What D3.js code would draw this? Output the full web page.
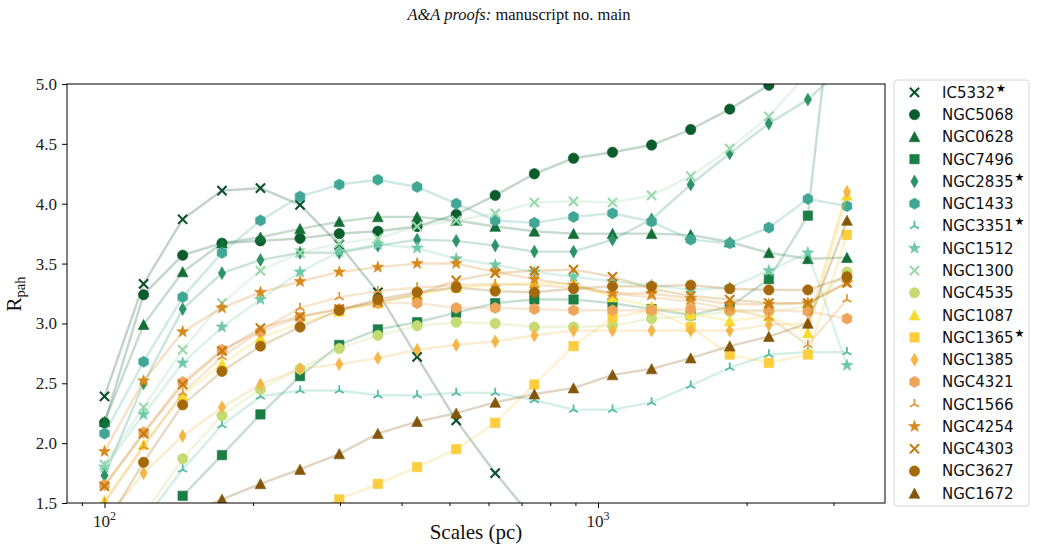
<!DOCTYPE html>
<html><head><meta charset="utf-8">
<script src="https://cdn.jsdelivr.net/npm/d3@7/dist/d3.min.js"></script>
<style>body{margin:0;background:#fff}</style>
</head><body><svg id="c" width="1037" height="552"></svg>
<script>
// ---------- data ----------
const scales = [100,120,144,173,207,249,299,358,430,516,619,743,892,1070,1284,1541,1849,2219,2662,3195];
const names = ["IC5332","NGC5068","NGC0628","NGC7496","NGC2835","NGC1433","NGC3351","NGC1512","NGC1300","NGC4535",
               "NGC1087","NGC1365","NGC1385","NGC4321","NGC1566","NGC4254","NGC4303","NGC3627","NGC1672"];
const starred = ["IC5332","NGC2835","NGC3351","NGC1365"];

const IC5332  = [2.39,3.33,3.87,4.11,4.13,3.99,3.66,3.26,2.72,2.19,1.75,1.36,null,null,null,null,null,null,null,null];
const NGC5068 = [2.17,3.24,3.57,3.67,3.69,3.71,3.75,3.77,3.81,3.91,4.07,4.25,4.38,4.43,4.49,4.62,4.79,4.99,null,null];
const NGC0628 = [2.18,2.99,3.43,3.67,3.72,3.79,3.85,3.89,3.89,3.86,3.81,3.77,3.75,3.75,3.75,3.74,3.68,3.59,3.54,3.55];
const NGC7496 = [null,null,1.56,1.90,2.24,2.56,2.82,2.95,3.01,3.09,3.17,3.20,3.20,3.17,3.12,3.07,3.14,3.37,3.90,6.80];
const NGC2835 = [1.73,2.50,3.12,3.42,3.53,3.59,3.59,3.65,3.70,3.69,3.65,3.60,3.60,3.70,3.87,4.16,4.42,4.67,4.87,5.17];
const NGC1433 = [2.08,2.68,3.22,3.59,3.86,4.06,4.16,4.20,4.14,4.00,3.86,3.84,3.89,3.92,3.85,3.70,3.67,3.80,4.04,3.98];
const NGC3351 = [null,1.35,1.78,2.15,2.39,2.44,2.44,2.40,2.40,2.42,2.42,2.36,2.28,2.28,2.34,2.48,2.63,2.74,2.76,2.76];
const NGC1512 = [1.80,2.24,2.67,2.97,3.20,3.43,3.60,3.66,3.63,3.54,3.49,3.43,3.39,3.35,3.32,3.28,3.30,3.44,3.59,2.65];
const NGC1300 = [1.82,2.30,2.78,3.17,3.44,3.59,3.67,3.71,3.81,3.86,3.92,4.01,4.02,4.01,4.07,4.23,4.46,4.73,5.09,null];
const NGC4535 = [null,1.40,1.87,2.23,2.45,2.62,2.79,2.90,2.98,3.01,3.00,2.97,2.97,2.98,3.04,3.06,3.10,3.10,3.14,3.43];
const NGC1087 = [1.52,1.99,2.40,2.66,2.88,3.00,3.10,3.17,3.24,3.30,3.32,3.34,3.33,3.22,3.14,3.08,3.02,3.06,2.92,4.07];
const NGC1365 = [null,null,null,null,null,1.40,1.53,1.66,1.80,1.95,2.17,2.49,2.81,3.05,3.11,2.97,2.74,2.67,2.74,3.74];
const NGC1385 = [1.35,1.75,2.06,2.30,2.49,2.62,2.66,2.71,2.78,2.82,2.85,2.90,2.94,2.94,2.94,2.94,2.94,2.99,3.00,4.10];
const NGC4321 = [1.65,2.09,2.51,2.78,2.93,3.05,3.12,3.17,3.17,3.13,3.13,3.12,3.11,3.11,3.11,3.12,3.11,3.11,3.10,3.04];
const NGC1566 = [1.50,1.97,2.42,2.72,2.94,3.13,3.22,3.27,3.30,3.32,3.33,3.32,3.30,3.25,3.22,3.18,3.12,3.05,2.82,3.20];
const NGC4254 = [1.93,2.52,2.93,3.13,3.26,3.35,3.43,3.47,3.50,3.50,3.43,3.37,3.32,3.25,3.25,3.21,3.16,3.16,3.17,3.34];
const NGC4303 = [1.64,2.08,2.49,2.77,2.96,3.06,3.12,3.18,3.24,3.36,3.42,3.44,3.45,3.39,3.29,3.23,3.20,3.17,3.17,3.34];
const NGC3627 = [1.30,1.84,2.32,2.60,2.81,2.97,3.11,3.20,3.26,3.30,3.27,3.26,3.29,3.31,3.31,3.32,3.29,3.28,3.28,3.39];
const NGC1672 = [null,null,1.40,1.53,1.66,1.78,1.91,2.08,2.18,2.25,2.34,2.41,2.46,2.57,2.62,2.71,2.81,2.89,3.00,3.86];

const seriesValues = [IC5332,NGC5068,NGC0628,NGC7496,NGC2835,NGC1433,NGC3351,NGC1512,NGC1300,NGC4535,
                      NGC1087,NGC1365,NGC1385,NGC4321,NGC1566,NGC4254,NGC4303,NGC3627,NGC1672];

const yTicks = [1.5,2.0,2.5,3.0,3.5,4.0,4.5,5.0];
const xMajor = [100,1000];
const xMinor = [90,200,300,400,500,600,700,800,900,2000,3000];

// ---------- styles ----------
const colors = ["#0c4f2b","#0b5c2d","#127036","#1b7e45","#2d9267","#41a795","#55bba2","#6ccaa7","#99d8aa","#c5dc73",
                "#f7dc2c","#fccd3d","#f5b646","#eda55a","#e3973a","#d88a1c","#c47b10","#a4690a","#85570b"];
const markers = ["x","o","^","s","d","h","2","*","x","o","^","s","d","h","2","*","x","o","^"];

// ---------- layout ----------
const L = 67, R = 885, T = 84, B = 503;
const svg = d3.select("#c");
const x = d3.scaleLog().domain([83.95, 3815]).range([L, R]);
const y = d3.scaleLinear().domain([1.5, 5.0]).range([B, T]);

function hexPath(r){
  let p = [];
  for (let k = 0; k < 6; k++){ const a = -Math.PI/2 + k*Math.PI/3; p.push([r*Math.cos(a), r*Math.sin(a)]); }
  return "M" + p.map(q => q[0].toFixed(2)+","+q[1].toFixed(2)).join("L") + "Z";
}
function starPath(ro, ri){
  let p = [];
  for (let k = 0; k < 10; k++){ const a = -Math.PI/2 + k*Math.PI/5; const r = k%2 ? ri : ro; p.push([r*Math.cos(a), r*Math.sin(a)]); }
  return "M" + p.map(q => q[0].toFixed(2)+","+q[1].toFixed(2)).join("L") + "Z";
}
function markerSpec(m){
  switch(m){
    case "x": return {d:"M-4.6,-4.6L4.6,4.6M-4.6,4.6L4.6,-4.6", fill:false, sw:2.1};
    case "o": return {d:"M5.2,0A5.2,5.2 0 1,1 -5.2,0A5.2,5.2 0 1,1 5.2,0Z", fill:true};
    case "^": return {d:"M0,-5.3L5.4,4.9L-5.4,4.9Z", fill:true};
    case "s": return {d:"M-4.7,-4.7H4.7V4.7H-4.7Z", fill:true};
    case "d": return {d:"M0,-6.4L3.7,0L0,6.4L-3.7,0Z", fill:true};
    case "h": return {d:hexPath(5.6), fill:true};
    case "2": return {d:"M0,0L0,-5.2M0,0L-4.5,2.6M0,0L4.5,2.6", fill:false, sw:1.8};
    case "*": return {d:starPath(6.2,2.5), fill:true};
  }
}

// clip
svg.append("defs").append("clipPath").attr("id","clip")
  .append("rect").attr("x",L).attr("y",T).attr("width",R-L).attr("height",B-T);

// title
const title = svg.append("text").attr("x",519).attr("y",20).attr("text-anchor","middle")
  .attr("font-family","Liberation Serif, Times New Roman, serif").attr("font-size",16.5).attr("fill","#111");
title.append("tspan").attr("font-style","italic").text("A&A proofs:");
title.append("tspan").text(" manuscript no. main");

// series
const plot = svg.append("g").attr("clip-path","url(#clip)");
const line = d3.line().defined(d => d.v !== null).x(d => x(d.s)).y(d => y(d.v));
seriesValues.forEach((vals, i) => {
  const pts = scales.map((s, j) => ({s, v: vals[j]}));
  const g = plot.append("g");
  g.append("path").datum(pts).attr("d", line).attr("fill","none")
    .attr("stroke", colors[i]).attr("stroke-width", 2.4).attr("stroke-opacity", 0.25)
    .attr("stroke-linejoin","round");
  const spec = markerSpec(markers[i]);
  g.selectAll("path.m").data(pts.filter(d => d.v !== null)).join("path").attr("class","m")
    .attr("transform", d => `translate(${x(d.s)},${y(d.v)})`)
    .attr("d", spec.d)
    .attr("fill", spec.fill ? colors[i] : "none")
    .attr("stroke", colors[i])
    .attr("stroke-width", spec.fill ? 0.6 : spec.sw)
    .attr("stroke-linecap", "butt");
});

// frame
svg.append("rect").attr("x",L).attr("y",T).attr("width",R-L).attr("height",B-T)
  .attr("fill","none").attr("stroke","#000").attr("stroke-width",1);

// y axis
const yAxis = svg.append("g").attr("transform",`translate(${L},0)`)
  .call(d3.axisLeft(y).tickValues(yTicks).tickSize(5).tickPadding(5).tickFormat(d3.format(".1f")));
yAxis.select(".domain").remove();
yAxis.selectAll("text").attr("font-family","Liberation Serif, Times New Roman, serif").attr("font-size",17).attr("fill","#222");

// x axis
const xAxisMinor = svg.append("g").attr("transform",`translate(0,${B})`)
  .call(d3.axisBottom(x).tickValues(xMinor).tickSize(3).tickFormat(""));
xAxisMinor.select(".domain").remove();
const xAxis = svg.append("g").attr("transform",`translate(0,${B})`)
  .call(d3.axisBottom(x).tickValues(xMajor).tickSize(5).tickFormat(""));
xAxis.select(".domain").remove();
xMajor.forEach(v => {
  const t = svg.append("text").attr("x", x(v)).attr("y", 526.5).attr("text-anchor","middle")
    .attr("font-family","Liberation Serif, Times New Roman, serif").attr("font-size",17).attr("fill","#222");
  t.append("tspan").text("10");
  t.append("tspan").attr("dy",-7).attr("font-size",12).text(String(Math.round(Math.log10(v))));
});

// axis labels
svg.append("text").attr("x",(L+R)/2).attr("y",539).attr("text-anchor","middle")
  .attr("font-family","Liberation Serif, Times New Roman, serif").attr("font-size",21).attr("fill","#111")
  .text("Scales (pc)");
const yl = svg.append("text").attr("transform","translate(21,294) rotate(-90)").attr("text-anchor","middle")
  .attr("font-family","Liberation Serif, Times New Roman, serif").attr("font-size",21).attr("fill","#111");
yl.append("tspan").text("R");
yl.append("tspan").attr("dy",4).attr("font-size",14.5).text("pah");

// legend
const lg = svg.append("g");
lg.append("rect").attr("x",894).attr("y",80).attr("width",135).attr("height",426).attr("rx",3)
  .attr("fill","#fff").attr("fill-opacity",0.8).attr("stroke","#d6d6d6").attr("stroke-width",1);
names.forEach((n, i) => {
  const cy = 92.3 + i*22.28;
  const spec = markerSpec(markers[i]);
  lg.append("path").attr("transform",`translate(914.5,${cy})`).attr("d", spec.d)
    .attr("fill", spec.fill ? colors[i] : "none").attr("stroke", colors[i])
    .attr("stroke-width", spec.fill ? 0.6 : spec.sw);
  const t = lg.append("text").attr("x",942).attr("y",cy+5.4)
    .attr("font-family","DejaVu Sans, sans-serif").attr("font-size",15).attr("fill","#111").text(n);
  if (starred.includes(n)){
    const w = t.node().getComputedTextLength();
    lg.append("text").attr("x",942 + w + 1).attr("y",cy - 0.5)
      .attr("font-family","DejaVu Sans, sans-serif").attr("font-size",11).attr("fill","#000").text("★");
  }
});
</script>
</body></html>
